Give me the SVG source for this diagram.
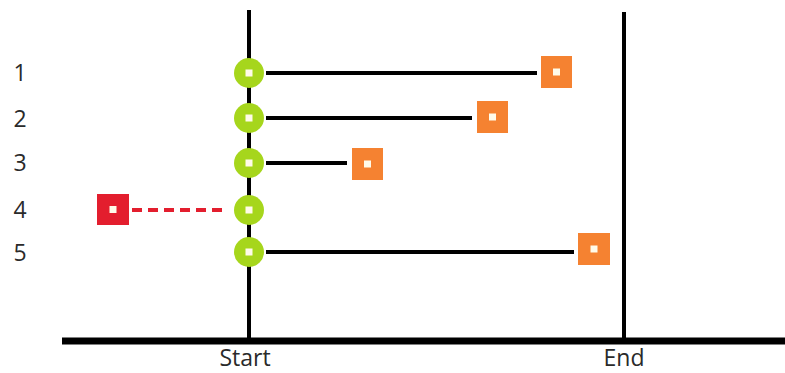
<svg xmlns="http://www.w3.org/2000/svg" width="785" height="373" viewBox="0 0 785 373">
<style>
.lbl{font-family:"Open Sans","Noto Sans","Liberation Sans",sans-serif;font-size:23px;fill:#2a2a2a}
.ax{stroke:#000;fill:none}
.ln{stroke:#000;stroke-width:4;fill:none}
.g{fill:#a6d61c}
.o{fill:#f58231}
.r{fill:#e31e2e}
.in{fill:#fffbea}
</style>
<rect width="785" height="373" fill="#fff"/>
<g id="axes">
<line class="ax" x1="249" y1="10" x2="249" y2="341" stroke-width="4"/>
<line class="ax" x1="624" y1="12" x2="624" y2="341" stroke-width="4"/>
<line class="ax" x1="62" y1="341" x2="785" y2="341" stroke-width="7"/>
<text class="lbl" x="245" y="366" text-anchor="middle">Start</text>
<text class="lbl" x="624" y="366" text-anchor="middle">End</text>
</g>
<g id="row-labels">
<text class="lbl" x="20" y="81" text-anchor="middle">1</text>
<text class="lbl" x="20" y="127" text-anchor="middle">2</text>
<text class="lbl" x="20" y="171" text-anchor="middle">3</text>
<text class="lbl" x="20" y="218" text-anchor="middle">4</text>
<text class="lbl" x="20" y="261" text-anchor="middle">5</text>
</g>
<g id="connectors">
<line class="ln" x1="266" y1="73" x2="537" y2="73"/>
<line class="ln" x1="266" y1="118" x2="472" y2="118"/>
<line class="ln" x1="266" y1="163" x2="347" y2="163"/>
<line x1="132" y1="210" x2="222" y2="210" stroke="#e31e2e" stroke-width="4" stroke-dasharray="10 6"/>
<line class="ln" x1="266" y1="252" x2="574" y2="252"/>
</g>
<g id="start1"><circle class="g" cx="249" cy="73" r="15"/><rect class="in" x="245.5" y="69.5" width="7" height="7"/></g>
<g id="start2"><circle class="g" cx="249" cy="118" r="15"/><rect class="in" x="245.5" y="114.5" width="7" height="7"/></g>
<g id="start3"><circle class="g" cx="249" cy="163" r="15"/><rect class="in" x="245.5" y="159.5" width="7" height="7"/></g>
<g id="start4"><circle class="g" cx="249" cy="210" r="15"/><rect class="in" x="245.5" y="206.5" width="7" height="7"/></g>
<g id="start5"><circle class="g" cx="249" cy="252" r="15"/><rect class="in" x="245.5" y="248.5" width="7" height="7"/></g>
<g id="end1"><rect class="o" x="541" y="56" width="31" height="32"/><rect class="in" x="553" y="68.5" width="7" height="7"/></g>
<g id="end2"><rect class="o" x="477" y="101" width="31" height="32"/><rect class="in" x="489" y="113.5" width="7" height="7"/></g>
<g id="end3"><rect class="o" x="352" y="148" width="31" height="32"/><rect class="in" x="364" y="160.5" width="7" height="7"/></g>
<g id="end4"><rect class="r" x="97" y="194" width="32" height="31"/><rect class="in" x="109.5" y="206" width="7" height="7"/></g>
<g id="end5"><rect class="o" x="578" y="233" width="32" height="32"/><rect class="in" x="590.5" y="245.5" width="7" height="7"/></g>
</svg>
